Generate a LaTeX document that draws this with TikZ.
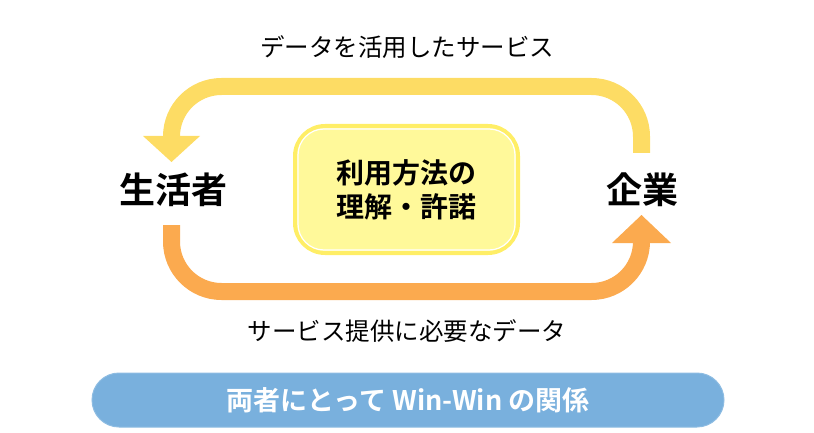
\documentclass[tikz,border=0pt]{standalone}
\usepackage{fontspec}
\setmainfont{Noto Sans CJK JP}
\newfontfamily\jpbold{Noto Sans CJK JP Bold}
\usetikzlibrary{positioning}
\definecolor{arrowyellow}{HTML}{FDDC64}
\definecolor{arroworange}{HTML}{FBAA4F}
\definecolor{boxfill}{HTML}{FFF99A}
\definecolor{boxline}{HTML}{FFEE66}
\definecolor{barblue}{HTML}{79B0DD}
\tikzset{
  actor/.style={font=\jpbold\fontsize{36}{40}\selectfont, text=black, inner sep=0pt},
  flowlabel/.style={font=\fontsize{24.5}{28}\selectfont, text=black, inner sep=0pt},
  shaft/.style={line width=17pt, rounded corners=50pt},
  centerbox/.style={draw=boxline, line width=4pt, fill=boxfill, rounded corners=30pt,
    minimum width=223pt, minimum height=127pt, align=center,
    font=\jpbold\fontsize{28}{34}\selectfont},
  bar/.style={fill=barblue, draw=barblue!85!white, line width=1pt, rounded corners=27pt,
    minimum width=632pt, minimum height=54pt, text=white,
    font=\jpbold\fontsize{27}{30}\selectfont}
}
\begin{document}
\begin{tikzpicture}[x=1pt,y=-1pt]
\useasboundingbox (0,0) rectangle (814,433);
% nodes
\node[actor] (cons) at (173,189.5) {生活者};
\node[actor] (corp) at (642,189.5) {企業};
\node[centerbox] (mid) at (406.5,189.5) {利用方法の\\理解・許諾};
\draw[white, line width=1.2pt, rounded corners=26pt]
  ([xshift=5pt,yshift=-5pt]mid.north west) rectangle ([xshift=-5pt,yshift=5pt]mid.south east);
\node[flowlabel] (toplab) at (407,47) {データを活用したサービス};
\node[flowlabel] (botlab) at (407,331.5) {サービス提供に必要なデータ};
\node[bar] (winbar) at (408,400) {両者にとって Win-Win の関係};
% top arrow: corp -> cons
\coordinate (ts) at (641.5,153);
\coordinate (te) at (171.5,138);
\draw[shaft, arrowyellow] (ts) -- (641.5,86.5) -- (171.5,86.5) -- (te);
\fill[arrowyellow] (143,136) -- (200,136) -- (171.5,162) -- cycle;
% bottom arrow: cons -> corp
\coordinate (bs) at (171.5,225);
\coordinate (be) at (641.5,241);
\draw[shaft, arroworange] (bs) -- (171.5,291.5) -- (641.5,291.5) -- (be);
\fill[arroworange] (612,243) -- (671,243) -- (641.5,215) -- cycle;
\end{tikzpicture}
\end{document}
